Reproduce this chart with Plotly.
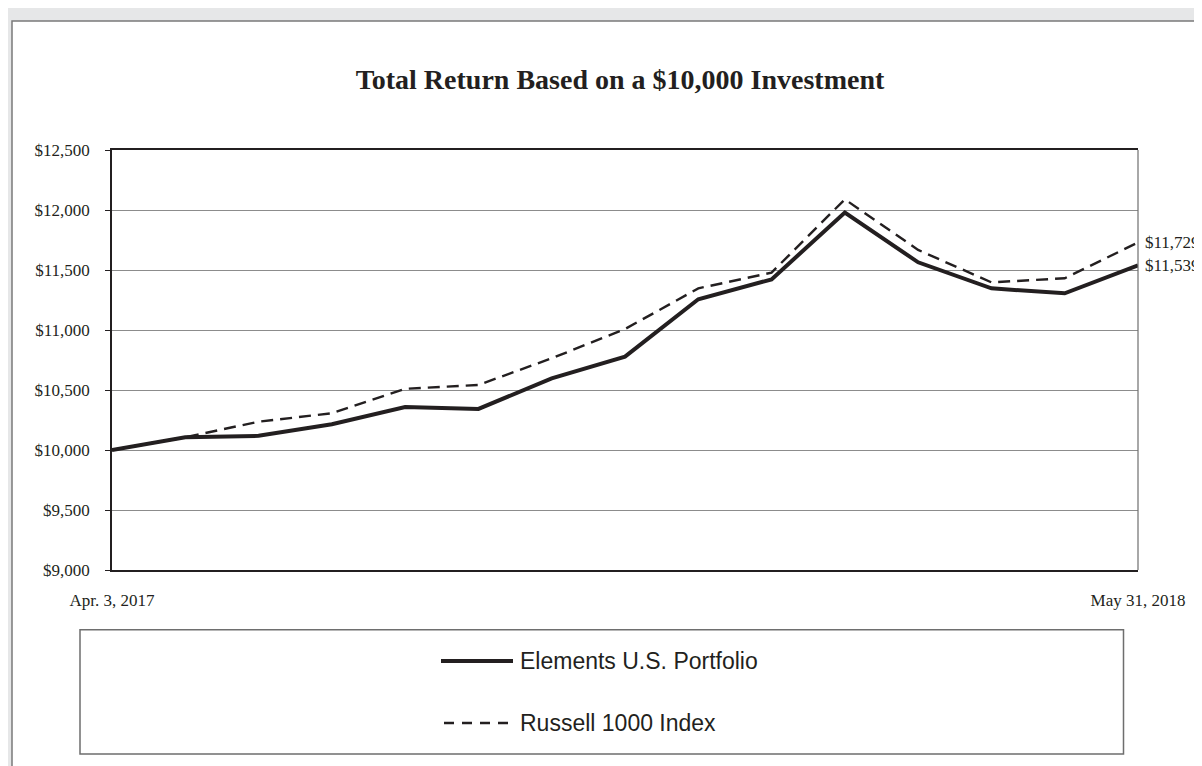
import plotly.graph_objects as go

# ---- data ----
periods = ["Apr. 3, 2017", "Apr. 2017", "May 2017", "Jun. 2017", "Jul. 2017", "Aug. 2017",
           "Sep. 2017", "Oct. 2017", "Nov. 2017", "Dec. 2017", "Jan. 2018", "Feb. 2018",
           "Mar. 2018", "Apr. 2018", "May 31, 2018"]
elements_us = [10000, 10106, 10118, 10214, 10358, 10342, 10597, 10778, 11256, 11422,
               11978, 11564, 11347, 11306, 11539]
russell_1000 = [10000, 10106, 10236, 10306, 10510, 10542, 10764, 11008, 11347, 11478,
                12089, 11667, 11397, 11431, 11729]
series_names = ["Elements U.S. Portfolio", "Russell 1000 Index"]
x_tick_labels = [periods[0], periods[-1]]
y_ticks = [9000, 9500, 10000, 10500, 11000, 11500, 12000, 12500]
title_text = "Total Return Based on a $10,000 Investment"

INK = "#231f20"
GRID = "#8c8c8c"
SERIF = "Liberation Serif, Times New Roman, serif"
SANS = "Liberation Sans, Arial, sans-serif"

W, H = 1202, 766
L, R, T, B = 104, 72, 142, 204
PW, PH = W - L - R, H - T - B


def px(xp):
    return (xp - L) / PW


def py(yp):
    return (H - B - yp) / PH


fig = go.Figure()
fig.add_trace(go.Scatter(x=periods, y=elements_us, mode="lines", name=series_names[0],
                         line=dict(color=INK, width=4), showlegend=False))
fig.add_trace(go.Scatter(x=periods, y=russell_1000, mode="lines", name=series_names[1],
                         line=dict(color=INK, width=2.4, dash="12px,7px"), showlegend=False))

shapes = [
    # white panel
    dict(type="rect", xref="paper", yref="paper", x0=px(4), x1=px(1215), y0=py(790), y1=py(13),
         fillcolor="white", line=dict(color="#7a7a7a", width=1.5), layer="below"),
    # right edge of plot area
    dict(type="line", xref="paper", yref="paper", x0=1, x1=1, y0=0, y1=1,
         line=dict(color="#6e6e6e", width=1.2)),
    # legend box
    dict(type="rect", xref="paper", yref="paper", x0=px(72), x1=px(1115.5), y0=py(746), y1=py(621.7),
         fillcolor="rgba(0,0,0,0)", line=dict(color="#6e6e6e", width=1.5)),
    # legend samples
    dict(type="line", xref="paper", yref="paper", x0=px(433), x1=px(505), y0=py(653), y1=py(653),
         line=dict(color=INK, width=4)),
    dict(type="line", xref="paper", yref="paper", x0=px(436), x1=px(505), y0=py(715), y1=py(715),
         line=dict(color=INK, width=2.4, dash="10px,8px")),
]

annotations = [
    dict(xref="paper", yref="paper", x=px(510), y=py(653), text=series_names[0], showarrow=False,
         xanchor="left", yanchor="middle", font=dict(family=SANS, size=23, color=INK)),
    dict(xref="paper", yref="paper", x=px(510), y=py(715), text=series_names[1], showarrow=False,
         xanchor="left", yanchor="middle", font=dict(family=SANS, size=23, color=INK)),
    dict(xref="x", yref="y", x=periods[-1], y=russell_1000[-1], text=f"${russell_1000[-1]:,}",
         showarrow=False, xanchor="left", yanchor="middle", xshift=5,
         font=dict(family=SERIF, size=17, color=INK)),
    dict(xref="x", yref="y", x=periods[-1], y=elements_us[-1], text=f"${elements_us[-1]:,}",
         showarrow=False, xanchor="left", yanchor="middle", xshift=5,
         font=dict(family=SERIF, size=17, color=INK)),
]

fig.update_layout(
    width=W, height=H,
    margin=dict(l=L, r=R, t=T, b=B),
    paper_bgcolor="#e6e7e8",
    plot_bgcolor="white",
    title=dict(text="<b>" + title_text + "</b>", x=612 / W, xanchor="center",
               y=1 - 71 / H, yanchor="middle", yref="container",
               font=dict(family=SERIF, size=28, color=INK)),
    shapes=shapes,
    annotations=annotations,
    showlegend=False,
)
fig.update_xaxes(type="category", range=[0, len(periods) - 1], tickvals=x_tick_labels,
                 ticktext=x_tick_labels, showgrid=False, zeroline=False, showline=True,
                 mirror=True, linecolor=INK, linewidth=1.5, ticks="",
                 ticklabelstandoff=14, tickfont=dict(family=SERIF, size=17, color=INK))
fig.update_yaxes(range=[9000, 12500], tickvals=y_ticks, tickformat="$,.0f", showgrid=True,
                 gridcolor=GRID, gridwidth=1.3, zeroline=False, showline=True,
                 linecolor=INK, linewidth=1.5, ticks="outside", ticklen=5, tickcolor=INK,
                 ticklabelstandoff=12, tickfont=dict(family=SERIF, size=17, color=INK))

fig.write_html("out.html")
